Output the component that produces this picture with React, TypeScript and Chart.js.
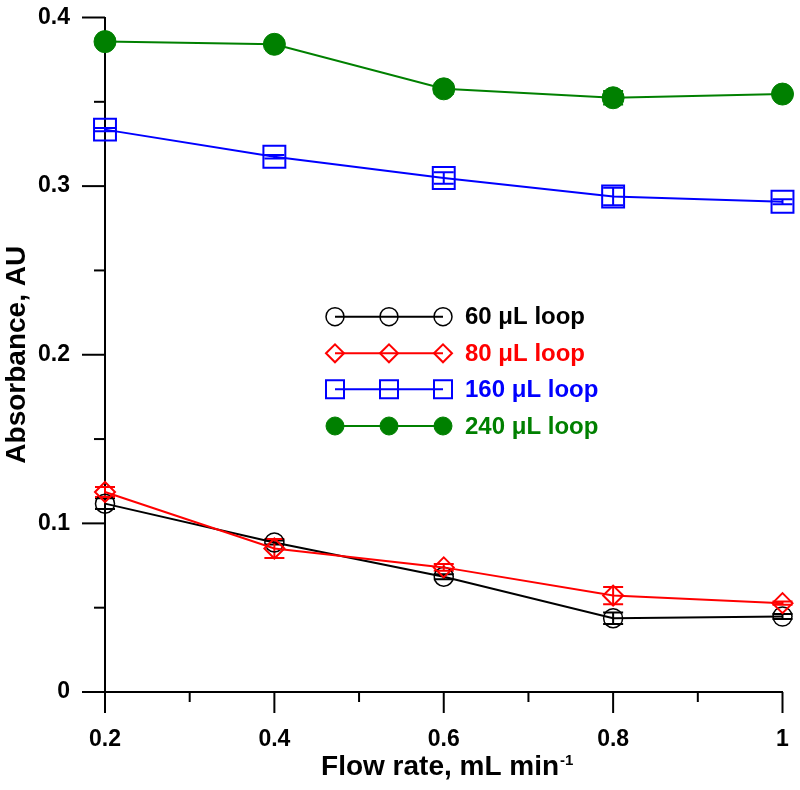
import React, { useEffect, useRef } from 'react';
import { Chart, registerables } from 'chart.js';

Chart.register(...registerables);

// ---- data ----
const flowRates = [0.2, 0.4, 0.6, 0.8, 1.0];
const loop60 = [0.1117, 0.0887, 0.0684, 0.0438, 0.0448];
const loop60Err = [0.0032, 0.0012, 0.0015, 0.0034, 0.0015];
const loop80 = [0.1186, 0.0851, 0.0739, 0.0572, 0.0527];
const loop80Err = [0.003, 0.0056, 0.002, 0.0051, 0.001];
const loop160 = [0.3335, 0.3174, 0.3048, 0.2938, 0.2907];
const loop160Err = [0.001, 0.001, 0.0034, 0.0052, 0.0015];
const loop240 = [0.3857, 0.3841, 0.3577, 0.3524, 0.3546];
const loop240Err = [0, 0, 0.003, 0.004, 0];
const seriesLabels = ['60 \u03bcL loop', '80 \u03bcL loop', '160 \u03bcL loop', '240 \u03bcL loop'];
const xTickLabels = ['0.2', '0.4', '0.6', '0.8', '1'];
const yTickLabels = ['0', '0.1', '0.2', '0.3', '0.4'];
const xTitle = 'Flow rate, mL min';
const xTitleSup = '-1';
const yTitle = 'Absorbance, AU';

const FONT = "'Liberation Sans', Arial, Helvetica, sans-serif";

const pts = (ys: number[]) => ys.map((y, i) => ({ x: flowRates[i], y }));

const seriesStyle = [
  { color: '#000000', style: 'circle', radius: 9.5, fill: false, lw: 1.5, err: loop60Err, data: loop60 },
  { color: '#ff0000', style: 'rectRot', radius: 10, fill: false, lw: 2, err: loop80Err, data: loop80 },
  { color: '#0000ff', style: 'rect', radius: 15.5, fill: false, lw: 2, err: loop160Err, data: loop160 },
  { color: '#008000', style: 'circle', radius: 11, fill: true, lw: 1, err: loop240Err, data: loop240 },
];

const errorBarPlugin = {
  id: 'errorBars',
  beforeDatasetsDraw(chart: any) {
    const { ctx, scales } = chart;
    const xs = scales.x, ys = scales.y;
    ctx.save();
    seriesStyle.forEach((s) => {
      ctx.strokeStyle = s.color;
      ctx.lineWidth = 2;
      s.data.forEach((v, i) => {
        const e = s.err[i];
        if (!e) return;
        const px = xs.getPixelForValue(flowRates[i]);
        const top = ys.getPixelForValue(v + e);
        const bot = ys.getPixelForValue(v - e);
        ctx.beginPath();
        ctx.moveTo(px, top);
        ctx.lineTo(px, bot);
        ctx.moveTo(px - 10, top);
        ctx.lineTo(px + 10, top);
        ctx.moveTo(px - 10, bot);
        ctx.lineTo(px + 10, bot);
        ctx.stroke();
      });
    });
    ctx.restore();
  },
};

function drawMarker(ctx: CanvasRenderingContext2D, style: string, x: number, y: number, r: number, color: string, fill: boolean, lw: number) {
  ctx.beginPath();
  if (style === 'circle') {
    ctx.arc(x, y, r, 0, Math.PI * 2);
  } else if (style === 'rect') {
    ctx.rect(x - r, y - r, 2 * r, 2 * r);
  } else {
    ctx.moveTo(x - r, y);
    ctx.lineTo(x, y - r);
    ctx.lineTo(x + r, y);
    ctx.lineTo(x, y + r);
    ctx.closePath();
  }
  if (fill) {
    ctx.fillStyle = color;
    ctx.fill();
  }
  ctx.strokeStyle = color;
  ctx.lineWidth = lw;
  ctx.stroke();
}

const decorPlugin = {
  id: 'decor',
  afterDraw(chart: any) {
    const { ctx, scales, chartArea } = chart;
    const xs = scales.x, ys = scales.y;
    ctx.save();
    ctx.strokeStyle = '#000';
    ctx.lineWidth = 2;
    // x ticks
    for (let k = 2; k <= 10; k++) {
      const px = xs.getPixelForValue(k / 10);
      const len = k % 2 === 0 ? 21 : 10;
      ctx.beginPath();
      ctx.moveTo(px, chartArea.bottom);
      ctx.lineTo(px, chartArea.bottom + len);
      ctx.stroke();
    }
    // y ticks
    for (let k = 0; k <= 8; k++) {
      const py = ys.getPixelForValue(k * 0.05);
      const len = k % 2 === 0 ? 23 : 11;
      ctx.beginPath();
      ctx.moveTo(chartArea.left, py);
      ctx.lineTo(chartArea.left - len, py);
      ctx.stroke();
    }
    // x title with superscript
    const cx = (chartArea.left + chartArea.right) / 2 + 3;
    ctx.fillStyle = '#000';
    ctx.textBaseline = 'alphabetic';
    ctx.font = `bold 28px ${FONT}`;
    const w1 = ctx.measureText(xTitle).width;
    ctx.font = `bold 15px ${FONT}`;
    const w2 = ctx.measureText(xTitleSup).width;
    const start = cx - (w1 + w2) / 2;
    ctx.font = `bold 28px ${FONT}`;
    ctx.textAlign = 'left';
    ctx.fillText(xTitle, start, 775);
    ctx.font = `bold 15px ${FONT}`;
    ctx.fillText(xTitleSup, start + w1 + 1, 765);

    // legend
    const lx0 = 335, lx1 = 443, tx = 465;
    const rows = [316.7, 353.3, 389.3, 426];
    seriesStyle.forEach((s, i) => {
      const y = rows[i];
      ctx.strokeStyle = s.color;
      ctx.lineWidth = 2;
      ctx.beginPath();
      ctx.moveTo(lx0, y);
      ctx.lineTo(lx1, y);
      ctx.stroke();
      [lx0, (lx0 + lx1) / 2, lx1].forEach((mx) => drawMarker(ctx, s.style, mx, y, 9, s.color, s.fill, s.lw));
      ctx.fillStyle = s.color;
      ctx.font = `bold 24px ${FONT}`;
      ctx.textBaseline = 'middle';
      ctx.textAlign = 'left';
      ctx.fillText(seriesLabels[i], tx, y + 1);
    });
    ctx.restore();
  },
};

export default function App() {
  const ref = useRef<HTMLCanvasElement | null>(null);
  useEffect(() => {
    if (!ref.current) return;
    const tickFont = { family: FONT, size: 23, weight: 'bold' as const };
    const datasets = seriesStyle.map((s, i) => ({
      label: seriesLabels[i],
      data: pts(s.data),
      borderColor: s.color,
      backgroundColor: s.fill ? s.color : 'rgba(0,0,0,0)',
      borderWidth: 2,
      pointStyle: s.style,
      pointRadius: s.radius,
      pointBorderWidth: s.lw,
      pointBorderColor: s.color,
      pointBackgroundColor: s.fill ? s.color : 'rgba(0,0,0,0)',
      tension: 0,
      fill: false,
      clip: false as const,
      order: [1, 0, 2, 3][i],
    }));
    const chart = new Chart(ref.current, {
      type: 'line',
      data: { datasets },
      options: {
        animation: false,
        responsive: false,
        maintainAspectRatio: false,
        layout: { padding: { top: 14, right: 16, left: 0, bottom: 0 } },
        plugins: { legend: { display: false }, tooltip: { enabled: false } },
        scales: {
          x: {
            type: 'linear',
            min: 0.2,
            max: 1.0,
            ticks: {
              stepSize: 0.1,
              autoSkip: false,
              maxRotation: 0,
              padding: 13,
              color: '#000',
              font: tickFont,
              callback: (v: any) => {
                const k = Math.round(Number(v) * 10);
                return k % 2 === 0 ? xTickLabels[(k - 2) / 2] : '';
              },
            },
            grid: { display: true, drawOnChartArea: false, tickLength: 21, tickColor: 'rgba(0,0,0,0)' },
            border: { display: true, color: '#000', width: 2 },
            afterFit: (s: any) => {
              s.height = 98;
              s.paddingLeft = 0;
              s.paddingRight = 0;
            },
          },
          y: {
            min: 0,
            max: 0.4,
            ticks: {
              stepSize: 0.05,
              autoSkip: false,
              padding: 12,
              color: '#000',
              font: tickFont,
              callback: (v: any) => {
                const k = Math.round(Number(v) * 20);
                return k % 2 === 0 ? yTickLabels[k / 2] : '';
              },
            },
            grid: { display: true, drawOnChartArea: false, tickLength: 23, tickColor: 'rgba(0,0,0,0)' },
            border: { display: true, color: '#000', width: 2 },
            title: {
              display: true,
              text: yTitle,
              color: '#000',
              font: { family: FONT, size: 28, weight: 'bold' },
              padding: { top: 0, bottom: 0 },
            },
            afterFit: (s: any) => {
              s.width = 105;
              s.paddingTop = 0;
              s.paddingBottom = 0;
            },
          },
        },
      },
      plugins: [errorBarPlugin, decorPlugin],
    } as any);
    return () => chart.destroy();
  }, []);
  return (
    <div style={{ position: 'absolute', left: 0, top: 0, width: 800, height: 790, background: '#fff' }}>
      <canvas ref={ref} width={800} height={790} style={{ display: 'block' }} />
    </div>
  );
}
